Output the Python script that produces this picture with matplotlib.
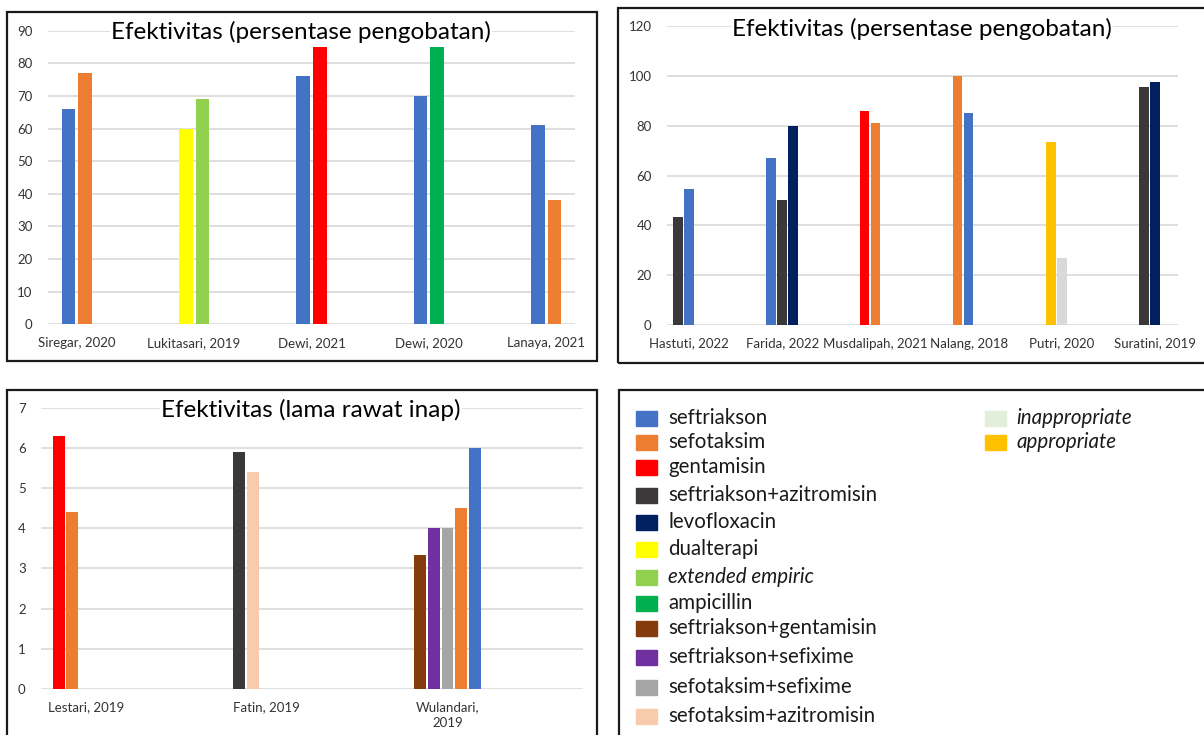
import matplotlib
matplotlib.use("Agg")
import matplotlib.pyplot as plt
from matplotlib.patches import Rectangle

plt.rcParams['font.family'] = ['Lato', 'DejaVu Sans']

W, H = 1204, 735

# treatment colours
colors = {
    "seftriakson": "#4472C4",
    "sefotaksim": "#ED7D31",
    "gentamisin": "#FF0000",
    "seftriakson+azitromisin": "#3A3838",
    "levofloxacin": "#002060",
    "dualterapi": "#FFFF00",
    "extended empiric": "#92D050",
    "ampicillin": "#00B050",
    "seftriakson+gentamisin": "#843C0C",
    "seftriakson+sefixime": "#7030A0",
    "sefotaksim+sefixime": "#A5A5A5",
    "sefotaksim+azitromisin": "#F8CBAD",
    "inappropriate": "#D9D9D9",
    "appropriate": "#FFC000",
}

# chart 1: persentase pengobatan
p1_studies = ["Siregar, 2020", "Lukitasari, 2019", "Dewi, 2021", "Dewi, 2020", "Lanaya, 2021"]
p1_series = [["seftriakson", "sefotaksim"],
             ["dualterapi", "extended empiric"],
             ["seftriakson", "gentamisin"],
             ["seftriakson", "ampicillin"],
             ["seftriakson", "sefotaksim"]]
p1_values = [[66, 77], [60, 69], [76, 85], [70, 85], [61, 38]]

# chart 2: persentase pengobatan
p2_studies = ["Hastuti, 2022", "Farida, 2022", "Musdalipah, 2021", "Nalang, 2018", "Putri, 2020", "Suratini, 2019"]
p2_series = [["seftriakson+azitromisin", "seftriakson"],
             ["seftriakson", "seftriakson+azitromisin", "levofloxacin"],
             ["gentamisin", "sefotaksim"],
             ["sefotaksim", "seftriakson"],
             ["appropriate", "inappropriate"],
             ["seftriakson+azitromisin", "levofloxacin"]]
p2_values = [[43.5, 54.5], [67, 50, 80], [86, 81], [100, 85], [73.5, 27], [95.5, 97.5]]

# chart 3: lama rawat inap
p3_studies = ["Lestari, 2019", "Fatin, 2019", "Wulandari,\n2019"]
p3_series = [["gentamisin", "sefotaksim"],
             ["seftriakson+azitromisin", "sefotaksim+azitromisin"],
             ["seftriakson+gentamisin", "seftriakson+sefixime", "sefotaksim+sefixime",
              "sefotaksim", "seftriakson"]]
p3_values = [[6.3, 4.4], [5.9, 5.4], [3.33, 4.0, 4.0, 4.5, 6.0]]

legend_left = ["seftriakson", "sefotaksim", "gentamisin", "seftriakson+azitromisin",
               "levofloxacin", "dualterapi", "extended empiric", "ampicillin",
               "seftriakson+gentamisin", "seftriakson+sefixime", "sefotaksim+sefixime",
               "sefotaksim+azitromisin"]
legend_right = ["inappropriate", "appropriate"]
legend_italic = ["extended empiric", "inappropriate", "appropriate"]
legend_swatch = dict(colors, inappropriate="#E2EFDA")


def px_rect(x0, y0, x1, y1):
    return [x0 / W, 1 - y1 / H, (x1 - x0) / W, (y1 - y0) / H]


def bar_panel(fig, box, studies, series, values, n_slots, pitch, width,
              xlim, ymax, ystep, title, title_xy):
    ax = fig.add_axes(px_rect(*box))
    for i, (names, vals) in enumerate(zip(series, values)):
        start = i - (n_slots - 1) / 2 * pitch
        for k, (name, v) in enumerate(zip(names, vals)):
            ax.bar(start + k * pitch, v, width=width, color=colors[name], zorder=3)
    ax.set_xlim(*xlim)
    ax.set_ylim(0, ymax)
    ax.set_yticks(range(0, ymax + 1, ystep))
    ax.set_xticks(range(len(studies)))
    ax.set_xticklabels(studies, fontsize=9.5, color="#333333", linespacing=1.35)
    ax.tick_params(axis="y", length=0, pad=11, labelsize=9.5, labelcolor="#333333")
    ax.tick_params(axis="x", length=0, pad=9)
    for s in ax.spines.values():
        s.set_visible(False)
    ax.set_axisbelow(True)
    ax.yaxis.grid(True, color="#D9D9D9", linewidth=1.2)
    fig.text(title_xy[0] / W, 1 - title_xy[1] / H, title, fontsize=17.5,
             ha="center", va="baseline", color="#000000",
             bbox=dict(facecolor="white", edgecolor="none", pad=1))
    return ax


fig = plt.figure(figsize=(W / 100, H / 100), dpi=100)

# panel frames
for x0, y0, x1, y1 in [(7, 12, 597, 361), (618, 8, 1206, 363),
                       (7, 390, 597, 742), (619, 390, 1208, 742)]:
    fig.patches.append(Rectangle((x0 / W, 1 - y1 / H), (x1 - x0) / W, (y1 - y0) / H,
                                 transform=fig.transFigure, fill=False,
                                 edgecolor="#1A1A1A", linewidth=1.6, zorder=5))

bar_panel(fig, (48, 30.7, 575, 324.3), p1_studies, p1_series, p1_values,
          2, 0.1405, 0.115, (-0.243, 4.243), 90, 10,
          "Efektivitas (persentase pengobatan)", (301, 39))

bar_panel(fig, (667, 26, 1178, 325), p2_studies, p2_series, p2_values,
          3, 0.118, 0.102, (-0.236, 5.247), 120, 20,
          "Efektivitas (persentase pengobatan)", (922, 36))

bar_panel(fig, (41, 408, 583, 688.7), p3_studies, p3_series, p3_values,
          5, 0.076, 0.066, (-0.25, 2.75), 7, 1,
          "Efektivitas (lama rawat inap)", (311, 417))

# legend box
row_y = [418, 442, 467, 495, 522, 549, 577, 603, 628, 657, 687, 716]
for name, y in zip(legend_left, row_y):
    fig.patches.append(Rectangle((636 / W, 1 - (y + 8) / H), 21 / W, 15 / H,
                                 transform=fig.transFigure, color=legend_swatch[name]))
    fig.text(668 / W, 1 - y / H, name, fontsize=14.8, va="center", color="#1A1A1A",
             style="italic" if name in legend_italic else "normal")
for name, y in zip(legend_right, row_y):
    fig.patches.append(Rectangle((985 / W, 1 - (y + 8) / H), 21 / W, 15 / H,
                                 transform=fig.transFigure, color=legend_swatch[name]))
    fig.text(1016 / W, 1 - y / H, name, fontsize=14.8, va="center", color="#1A1A1A",
             style="italic" if name in legend_italic else "normal")

fig.savefig("out.png", dpi=100)
